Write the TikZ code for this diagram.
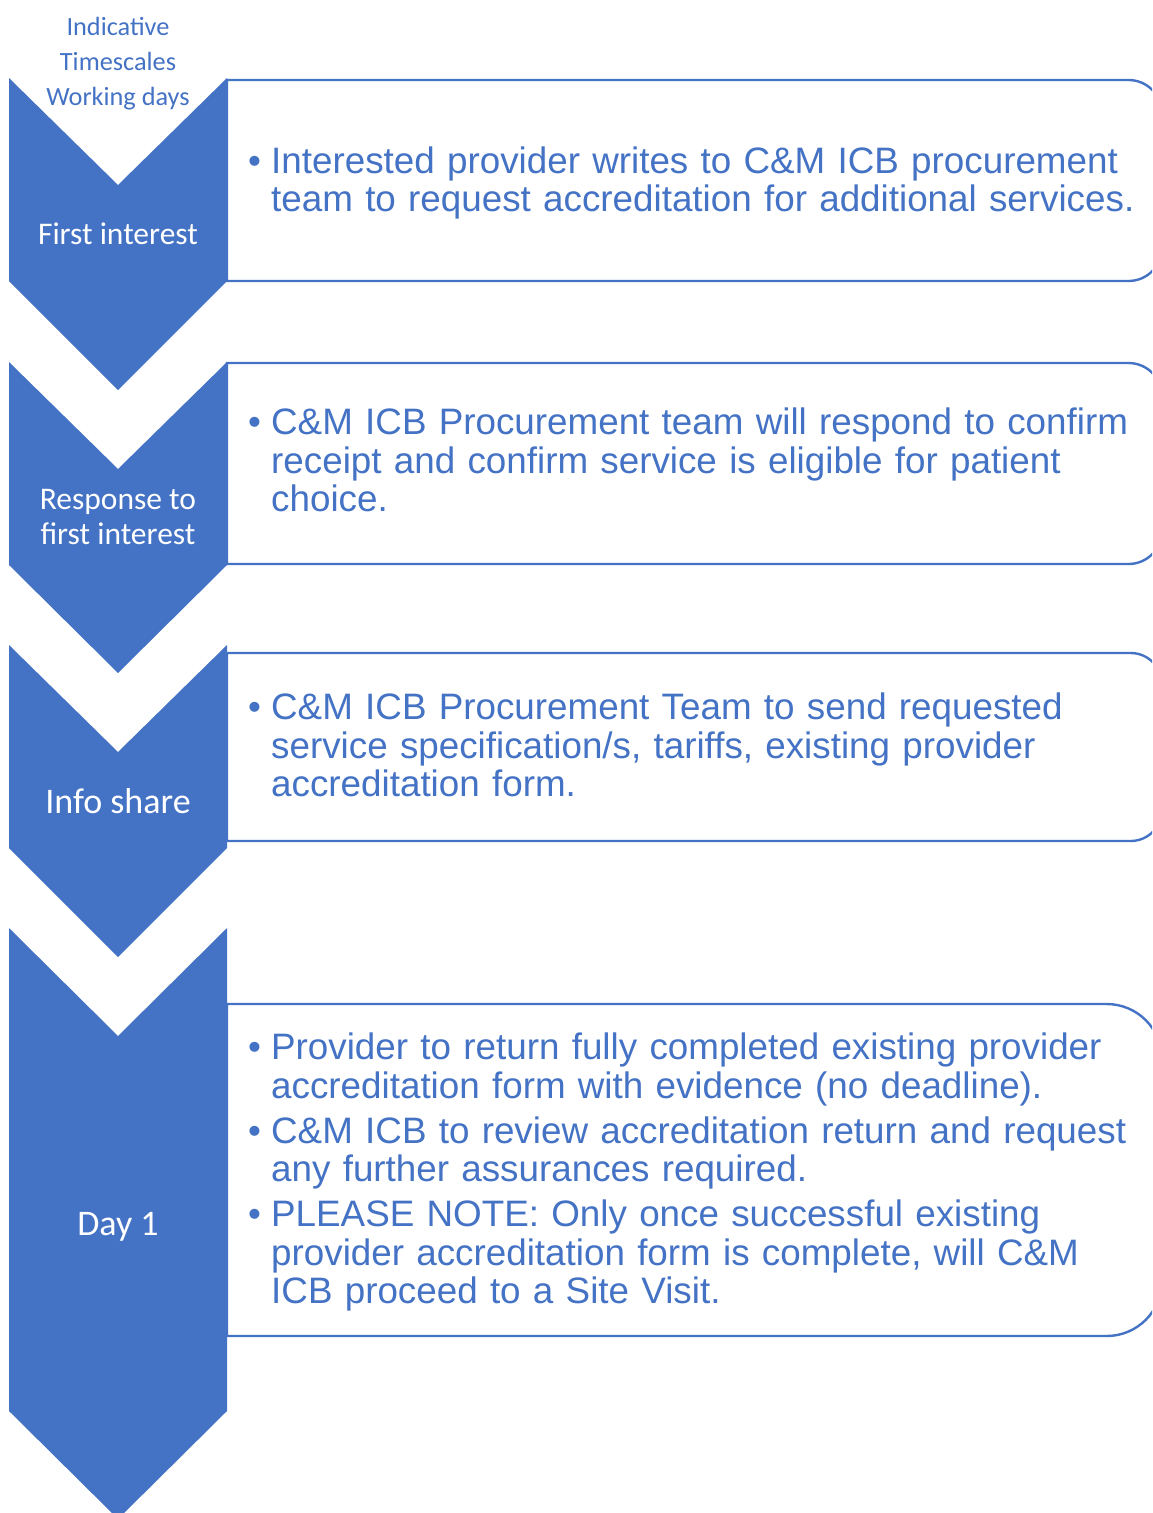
\documentclass[tikz,border=0pt]{standalone}
\usepackage{fontspec}
\setmainfont{Liberation Sans}
\newfontfamily\calfont{Carlito}
\definecolor{accent}{HTML}{4472C4}

% one bulleted paragraph with a hanging indent, no hyphenation
\newcommand{\bpoint}[1]{\par\hyphenpenalty=10000 \exhyphenpenalty=10000 \parskip=6.5pt
  \hangindent=24pt\hangafter=1\noindent\makebox[24pt][l]{\hspace*{1pt}•}#1\par}

\begin{document}
\begin{tikzpicture}[x=1pt,y=-1pt,
  chevron/.style={fill=accent, draw=none},
  stagebox/.style={draw=accent, line width=2.4pt, fill=white},
  stagelabel/.style={text=white, font=\calfont\fontsize{31.5}{35}\selectfont, align=center, inner sep=0pt},
  biglabel/.style={text=white, font=\calfont\fontsize{36}{40}\selectfont, align=center, inner sep=0pt},
  headtext/.style={text=accent, font=\calfont\fontsize{26.3}{35}\selectfont, align=center, inner sep=0pt},
  bodytext/.style={text=accent, anchor=west, inner sep=0pt, text width=900pt, align=left,
    font=\fontsize{36.8}{38.5}\selectfont},
]
\useasboundingbox (0,0) rectangle (1152,1513);
\clip (0,0) rectangle (1152,1513);

% description boxes: square on the left, rounded on the right (radius = height/6)
\foreach \t/\b in {80/281, 363/564, 653/841, 1004/1336}{
  \pgfmathsetmacro{\r}{(\b-\t)/6}
  \draw[stagebox] (227,\t) -- ({1162-\r},\t) arc[start angle=-90, end angle=0, radius=\r]
    -- (1162,{\b-\r}) arc[start angle=0, end angle=90, radius=\r] -- (227,\b) -- cycle;
}

% stage chevrons
\fill[chevron] (9,78) -- (118,185) -- (227,78) -- (227,281) -- (118,390) -- (9,281) -- cycle;
\fill[chevron] (9,362) -- (118,469) -- (227,362) -- (227,565) -- (118,673) -- (9,565) -- cycle;
\fill[chevron] (9,645) -- (118,752) -- (227,645) -- (227,848) -- (118,957) -- (9,848) -- cycle;
\fill[chevron] (9,928) -- (118,1036) -- (227,928) -- (227,1411) -- (118,1519) -- (9,1411) -- cycle;

% column heading
\node[headtext] (head) at (118,64) {Indicative\\Timescales\\Working days};

% stage names
\node[stagelabel] (s1) at (118,234) {First interest};
\node[stagelabel] (s2) at (118,517) {Response to\\first interest};
\node[biglabel] (s3) at (118,801) {Info share};
\node[biglabel] (s4) at (118,1227) {Day 1};

% stage descriptions
\node[bodytext] (d1) at (247,174) {\bpoint{Interested provider writes to C\&M ICB procurement team to request accreditation for additional services.}};
\node[bodytext] (d2) at (247,451) {\bpoint{C\&M ICB Procurement team will respond to confirm receipt and confirm service is eligible for patient choice.}};
\node[bodytext] (d3) at (247,736) {\bpoint{C\&M ICB Procurement Team to send requested service specification/s, tariffs, existing provider accreditation form.}};
\node[bodytext] (d4) at (247,1163) {%
  \bpoint{Provider to return fully completed existing provider accreditation form with evidence (no deadline).}%
  \bpoint{C\&M ICB to review accreditation return and request any further assurances required.}%
  \bpoint{PLEASE NOTE: Only once successful existing provider accreditation form is complete, will C\&M ICB proceed to a Site Visit.}};
\end{tikzpicture}
\end{document}
